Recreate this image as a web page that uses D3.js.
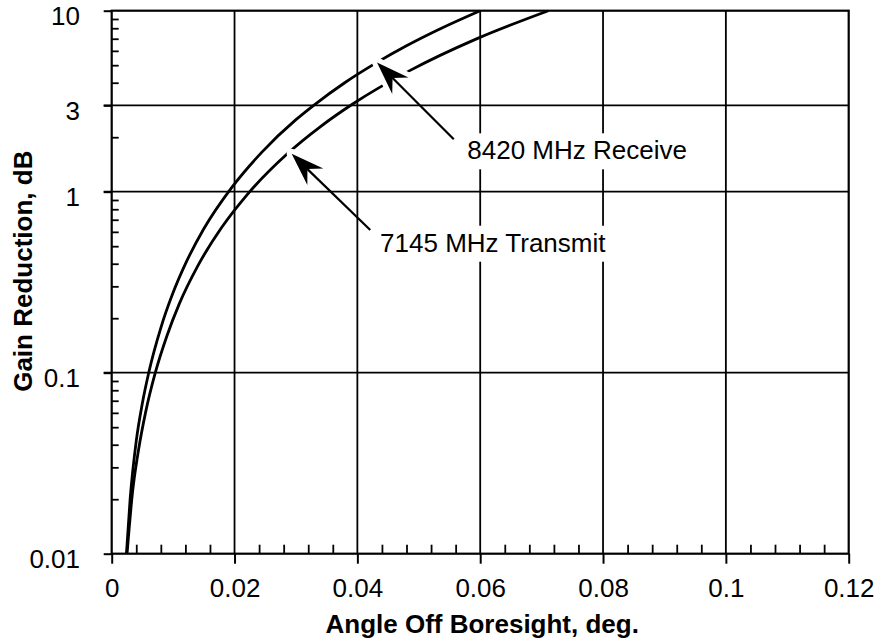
<!DOCTYPE html>
<html>
<head>
<meta charset="utf-8">
<script src="https://cdn.jsdelivr.net/npm/d3@7"></script>
<style>
  html, body { margin: 0; padding: 0; background: #fff; }
  svg { display: block; font-family: "Liberation Sans", Arial, Helvetica, sans-serif; }
</style>
</head>
<body>
<svg id="chart" width="881" height="644"></svg>
<script>
// ---- data ----
const receiveX  = [0.0024, 0.0030, 0.0040, 0.0050, 0.0060, 0.0080, 0.0100, 0.0120, 0.0150, 0.0195, 0.0245, 0.0300, 0.0330, 0.0380, 0.0432, 0.0480, 0.0530, 0.0600];
const receiveY  = [0.010,  0.020,  0.042,  0.068,  0.099,  0.177,  0.277,  0.399,  0.624,  1.05,   1.66,   2.50,   3.02,   4.01,   5.18,   6.40,   7.80,   10.0];
const transmitX = [0.0025, 0.0034, 0.0044, 0.0055, 0.0071, 0.0090, 0.0110, 0.0140, 0.0179, 0.0220, 0.0285, 0.0340, 0.0393, 0.0486, 0.0594, 0.0711];
const transmitY = [0.010,  0.022,  0.038,  0.060,  0.100,  0.160,  0.240,  0.388,  0.634,  0.958,  1.61,   2.29,   3.06,   4.68,   6.99,   10.0];

const xMajorTicks = [0, 0.02, 0.04, 0.06, 0.08, 0.1, 0.12];
const xTickLabels = ["0", "0.02", "0.04", "0.06", "0.08", "0.1", "0.12"];
const xMinorTicks = [0.004, 0.008, 0.012, 0.016, 0.024, 0.028, 0.032, 0.036, 0.044, 0.048, 0.052, 0.056,
                     0.064, 0.068, 0.072, 0.076, 0.084, 0.088, 0.092, 0.096, 0.104, 0.108, 0.112, 0.116];
const xGrid = [0.02, 0.04, 0.06, 0.08, 0.1];
const yMajorTicks = [0.01, 0.1, 1, 3, 10];
const yTickLabels = ["0.01", "0.1", "1", "3", "10"];
const yMinorTicks = [0.02, 0.03, 0.04, 0.05, 0.06, 0.07, 0.08, 0.09,
                     0.2, 0.3, 0.4, 0.5, 0.6, 0.7, 0.8, 0.9,
                     2, 4, 5, 6, 7, 8, 9];
const yGrid = [0.1, 1, 3];

const xTitle = "Angle Off Boresight, deg.";
const yTitle = "Gain Reduction, dB";

// annotations (data coordinates)
const annotations = [
  { label: "8420 MHz Receive",  tip: [0.0432, 5.18], tail: [0.0557, 1.95], text: [0.0579, 1.51] },
  { label: "7145 MHz Transmit", tip: [0.0293, 1.62], tail: [0.0421, 0.614], text: [0.0437, 0.466] }
];

// ---- layout ----
const L = 111.7, R = 848.7, T = 10.7, B = 553.7;
const FS = 26;
const svg = d3.select("#chart");

const x = d3.scaleLinear().domain([0, 0.12]).range([L, R]);
const y = d3.scaleLog().domain([0.01, 10]).range([B, T]);

const ink = "#000";

svg.append("defs").append("clipPath").attr("id", "plotclip")
  .append("rect").attr("x", L).attr("y", T - 1).attr("width", R - L).attr("height", B - T + 1);

// gridlines
const grid = svg.append("g").attr("stroke", ink).attr("stroke-width", 1.8);
grid.selectAll("line.vx").data(xGrid).join("line")
  .attr("x1", d => x(d)).attr("x2", d => x(d)).attr("y1", T).attr("y2", B);
grid.selectAll("line.hy").data(yGrid).join("line")
  .attr("x1", L - 8).attr("x2", R).attr("y1", d => y(d)).attr("y2", d => y(d));

// minor ticks (inward)
const xMinorAxis = d3.axisBottom(x).tickValues(xMinorTicks).tickSize(-9).tickFormat("");
svg.append("g").attr("transform", `translate(0,${B})`).call(xMinorAxis)
  .call(g => g.select(".domain").remove())
  .call(g => g.selectAll("line").attr("stroke", ink).attr("stroke-width", 1.8));

const yMinorAxis = d3.axisLeft(y).tickValues(yMinorTicks).tickSize(-7).tickFormat("");
svg.append("g").attr("transform", `translate(${L},0)`).call(yMinorAxis)
  .call(g => g.select(".domain").remove())
  .call(g => g.selectAll("line").attr("stroke", ink).attr("stroke-width", 1.8));

// major axes with labels
const xAxis = d3.axisBottom(x).tickValues(xMajorTicks).tickSize(10).tickPadding(14.5)
  .tickFormat((d, i) => xTickLabels[i]);
svg.append("g").attr("transform", `translate(0,${B})`).call(xAxis)
  .call(g => g.select(".domain").remove())
  .call(g => g.selectAll("line").attr("stroke", ink).attr("stroke-width", 2))
  .call(g => g.selectAll("text").attr("fill", ink).attr("font-size", FS)
    .attr("font-family", "Liberation Sans, Arial, Helvetica, sans-serif"));

const yAxis = d3.axisLeft(y).tickValues(yMajorTicks).tickSize(8).tickPadding(23.7)
  .tickFormat((d, i) => yTickLabels[i]);
svg.append("g").attr("transform", `translate(${L},0)`).call(yAxis)
  .call(g => g.select(".domain").remove())
  .call(g => g.selectAll("line").attr("stroke", ink).attr("stroke-width", 2))
  .call(g => g.selectAll("text").attr("fill", ink).attr("font-size", FS).attr("dy", 14)
    .attr("font-family", "Liberation Sans, Arial, Helvetica, sans-serif"));

// frame
svg.append("rect").attr("x", L).attr("y", T).attr("width", R - L).attr("height", B - T)
  .attr("fill", "none").attr("stroke", ink).attr("stroke-width", 2.2);

// curves
const line = d3.line().x(d => x(d[0])).y(d => y(d[1])).curve(d3.curveMonotoneX);
const curves = svg.append("g").attr("clip-path", "url(#plotclip)");
curves.append("path").datum(receiveX.map((v, i) => [v, receiveY[i]]))
  .attr("d", line).attr("fill", "none").attr("stroke", ink).attr("stroke-width", 2.8);
curves.append("path").datum(transmitX.map((v, i) => [v, transmitY[i]]))
  .attr("d", line).attr("fill", "none").attr("stroke", ink).attr("stroke-width", 2.8);

// annotations
const ann = svg.append("g");
annotations.forEach(a => {
  const tx = x(a.tip[0]), ty = y(a.tip[1]);
  const sx = x(a.tail[0]), sy = y(a.tail[1]);
  const dx = tx - sx, dy = ty - sy, len = Math.hypot(dx, dy);
  const ux = dx / len, uy = dy / len, nx = -uy, ny = ux;
  const HL = 33, HW = 11.5, HN = 22;
  const head = [
    [tx, ty],
    [tx - ux * HL + nx * HW, ty - uy * HL + ny * HW],
    [tx - ux * HN, ty - uy * HN],
    [tx - ux * HL - nx * HW, ty - uy * HL - ny * HW]
  ];
  const headPath = "M" + head.map(p => p.join(",")).join("L") + "Z";
  ann.append("path").attr("d", headPath).attr("fill", "#fff").attr("stroke", "#fff")
    .attr("stroke-width", 10).attr("stroke-linejoin", "round");
  ann.append("line").attr("x1", sx).attr("y1", sy)
    .attr("x2", tx - ux * HN).attr("y2", ty - uy * HN)
    .attr("stroke", ink).attr("stroke-width", 2.2);
  ann.append("path").attr("d", headPath).attr("fill", ink);

  const t = ann.append("text").attr("x", x(a.text[0])).attr("y", y(a.text[1]))
    .attr("font-size", FS).attr("fill", ink).text(a.label);
  const bb = t.node().getBBox();
  ann.insert("rect", () => t.node())
    .attr("x", bb.x - 3).attr("y", bb.y - 2).attr("width", bb.width + 6).attr("height", bb.height + 6)
    .attr("fill", "#fff");
});

// axis titles
svg.append("text").attr("x", (L + R) / 2 + 2).attr("y", 633)
  .attr("text-anchor", "middle").attr("font-size", FS).attr("font-weight", "bold").attr("fill", ink)
  .text(xTitle);
svg.append("text").attr("transform", `translate(31.5,${(T + B) / 2 - 11}) rotate(-90)`)
  .attr("text-anchor", "middle").attr("font-size", FS).attr("font-weight", "bold").attr("fill", ink)
  .text(yTitle);
</script>
</body>
</html>
